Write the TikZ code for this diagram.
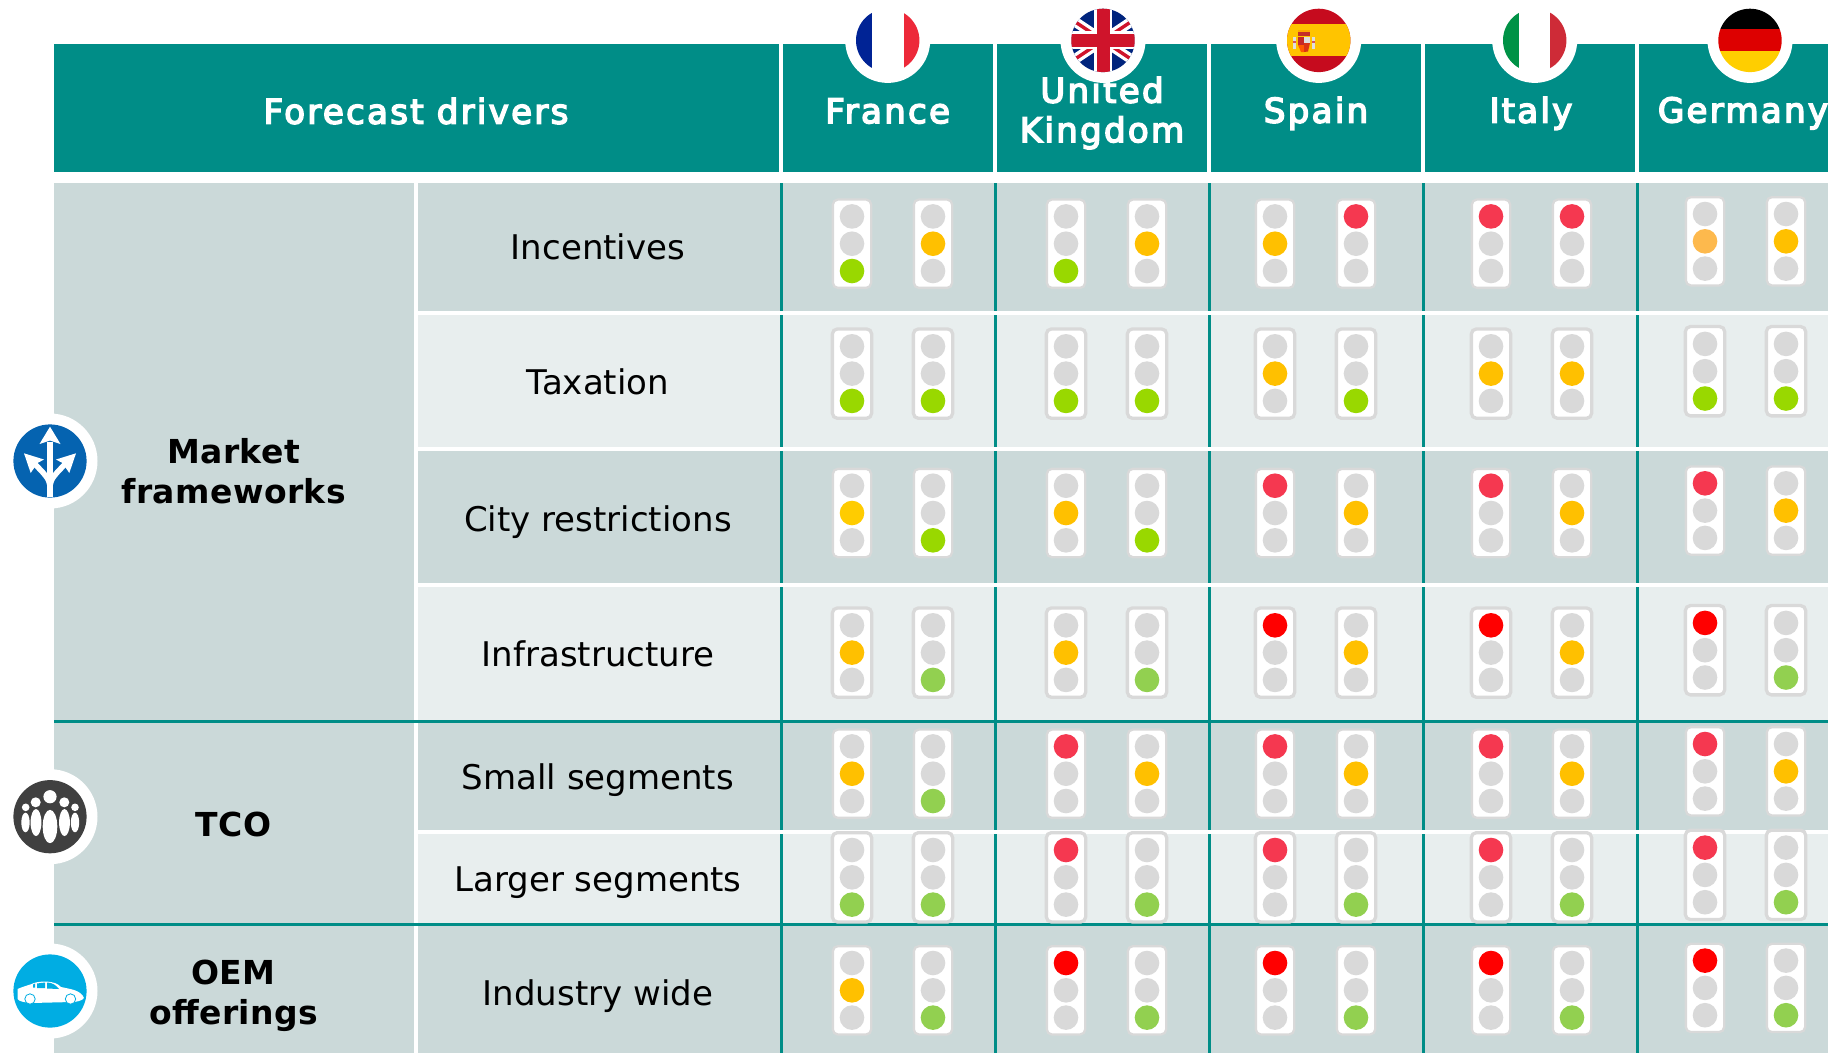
\documentclass[tikz,border=0pt]{standalone}
\usepackage{fontspec}
\setmainfont{DejaVu Sans}
\newfontfamily\hdrfont[FakeBold=4.5,LetterSpace=6.8]{DejaVu Sans}
\newfontfamily\grpfont[LetterSpace=1.2]{DejaVu Sans Bold}
\definecolor{Teal}{HTML}{008D87}
\definecolor{RowD}{HTML}{CBD9D9}
\definecolor{RowL}{HTML}{E8EEEE}
\definecolor{Off}{HTML}{D9D9D9}
\definecolor{Lime}{HTML}{99D800}
\definecolor{Grn}{HTML}{92D050}
\definecolor{Amb}{HTML}{FFC000}
\definecolor{Pale}{HTML}{FDB94D}
\definecolor{Yel}{HTML}{FFCC00}
\definecolor{Rd}{HTML}{F53850}
\definecolor{Pure}{HTML}{FF0000}
\definecolor{BlueI}{HTML}{0563B0}
\definecolor{DarkI}{HTML}{404040}
\definecolor{CyanI}{HTML}{00ADE3}
\definecolor{frblue}{HTML}{002395}
\definecolor{frred}{HTML}{ED2939}
\definecolor{ukblue}{HTML}{00247D}
\definecolor{ukred}{HTML}{CF142B}
\definecolor{esred}{HTML}{C60B1E}
\definecolor{esyel}{HTML}{FFC400}
\definecolor{itgreen}{HTML}{009246}
\definecolor{itred}{HTML}{CE2B37}
\definecolor{dered}{HTML}{DD0000}
\definecolor{degold}{HTML}{FFCE00}
\tikzset{
  hdrcell/.style={fill=Teal,draw=none},
  hdrtext/.style={text=white,font=\hdrfont\fontsize{34}{39.5}\selectfont,align=center,inner sep=0pt},
  rowtext/.style={text=black,font=\fontsize{34}{40}\selectfont,anchor=base,inner sep=0pt},
  grptext/.style={text=black,font=\grpfont\fontsize{33}{40}\selectfont,align=center,inner sep=0pt},
}
\newcommand{\colx}[1]{\ifcase#1\or852\or933\or1066\or1147\or1275\or1356\or1491\or1572\or1705\or1786\fi}
\newcommand{\coldy}[1]{\ifnum#1>8 -2.4\else 0\fi}
% \lightrow{y}{border}{list pos/colour}
\newcommand{\lightrow}[3]{%
  \foreach \p/\c [count=\i] in {#3} {
    \pgfmathsetmacro{\lx}{\colx{\i}}
    \pgfmathsetmacro{\ly}{#1+\coldy{\i}}
    \draw[draw=Off,fill=white,line width=#2pt,rounded corners=5pt]
      (\lx-18-#2/2,\ly-43-#2/2) rectangle (\lx+18+#2/2,\ly+43+#2/2);
    \foreach \k in {0,1,2} {
      \pgfmathsetmacro{\cy}{\ly+(\k-1)*27.3}
      \ifnum\k=\p\relax \fill[\c] (\lx,\cy) circle (12.3pt);
      \else \fill[Off] (\lx,\cy) circle (12.3pt); \fi
    }
  }
}
\begin{document}
\begin{tikzpicture}[x=1pt,y=-1pt]
\useasboundingbox (0,0) rectangle (1828,1053);
\fill[white] (0,0) rectangle (1828,1053);
% header cells
\fill[hdrcell] (54,44) rectangle (779,172);
\fill[hdrcell] (783,44) rectangle (993,172);
\fill[hdrcell] (997,44) rectangle (1207,172);
\fill[hdrcell] (1211,44) rectangle (1421,172);
\fill[hdrcell] (1425,44) rectangle (1635,172);
\fill[hdrcell] (1639,44) rectangle (1828,172);
% body backgrounds
\fill[RowD] (54,183) rectangle (1828,1053);
\fill[RowL] (417,314) rectangle (1828,449);
\fill[RowL] (417,585) rectangle (1828,721);
\fill[RowL] (417,832) rectangle (1828,924);
% teal verticals
\foreach \x in {781,995,1209,1423,1637} \draw[Teal,line width=3pt] (\x,183) -- (\x,1053);
% white rules
\foreach \y in {313,449,585,832} \draw[white,line width=3.4pt] (417,\y) -- (1828,\y);
\draw[white,line width=3.4pt] (416,183) -- (416,1053);
% teal horizontals
\foreach \y in {721,924} \draw[Teal,line width=3pt] (54,\y) -- (1828,\y);
% traffic lights
\lightrow{243.7}{2.3}{2/Lime,1/Amb,2/Lime,1/Amb,1/Amb,0/Rd,0/Rd,0/Rd,1/Pale,1/Amb}
\lightrow{373.6}{3.3}{2/Lime,2/Lime,2/Lime,2/Lime,1/Amb,2/Lime,1/Amb,1/Amb,2/Lime,2/Lime}
\lightrow{513}{2.3}{1/Yel,2/Lime,1/Amb,2/Lime,0/Rd,1/Amb,0/Rd,1/Amb,0/Rd,1/Amb}
\lightrow{652.6}{3.3}{1/Amb,2/Grn,1/Amb,2/Grn,0/Pure,1/Amb,0/Pure,1/Amb,0/Pure,2/Grn}
\lightrow{773.7}{2.3}{1/Amb,2/Grn,0/Rd,1/Amb,0/Rd,1/Amb,0/Rd,1/Amb,0/Rd,1/Amb}
\lightrow{877.3}{3.3}{2/Grn,2/Grn,0/Rd,2/Grn,0/Rd,2/Grn,0/Rd,2/Grn,0/Rd,2/Grn}
\lightrow{990.3}{2.3}{1/Amb,2/Grn,0/Pure,2/Grn,0/Pure,2/Grn,0/Pure,2/Grn,0/Pure,2/Grn}
% flags: halos
\foreach \x in {887.7,1103,1318.7,1534.7,1750} \fill[white] (\x,40.4) circle (42.5pt);
% France
\begin{scope}
\clip (887.7,40.4) circle (31.7pt);
\fill[white] (850,0) rectangle (930,80);
\fill[frblue] (850,0) rectangle (871.7,80);
\fill[frred] (903.7,0) rectangle (930,80);
\end{scope}
% United Kingdom
\begin{scope}
\clip (1103,40.4) circle (31.7pt);
\fill[ukblue] (1060,0) rectangle (1150,80);
\draw[white,line width=10pt] (1055,8.4) -- (1151,72.4) (1055,72.4) -- (1151,8.4);
\draw[ukred,line width=3.4pt] (1055,8.4) -- (1151,72.4) (1055,72.4) -- (1151,8.4);
\draw[white,line width=18pt] (1103,0) -- (1103,80) (1055,40.4) -- (1151,40.4);
\draw[ukred,line width=13pt] (1103,0) -- (1103,80) (1055,40.4) -- (1151,40.4);
\end{scope}
% Spain
\begin{scope}
\clip (1318.7,40.4) circle (31.7pt);
\fill[esred] (1280,0) rectangle (1360,80);
\fill[esyel] (1280,23.5) rectangle (1360,56);
\fill[esred!70!brown] (1298,32) rectangle (1310,36);
\fill[esyel!60!orange] (1298,29.5) rectangle (1310,32);
\fill[esred!75!brown] (1298,36.5) rectangle (1304,45);
\fill[white!75!gray] (1304,36.5) rectangle (1310,43);
\fill[orange!70!red] (1298,45) -- (1304,45) -- (1304,52) -- (1301,52) -- cycle;
\fill[esred!65!orange] (1304,43) -- (1310,43) -- (1308,51.5) -- (1304,52) -- cycle;
\fill[white!75!gray] (1293,37) rectangle (1295.5,49);
\fill[esred!70!white] (1292.5,41) rectangle (1296,43);
\fill[white!75!gray] (1312,37) rectangle (1314.5,49);
\fill[esred!70!white] (1311.5,41) rectangle (1315,43);
\end{scope}
% Italy
\begin{scope}
\clip (1534.7,40.4) circle (31.7pt);
\fill[white] (1500,0) rectangle (1570,80);
\fill[itgreen] (1500,0) rectangle (1518.5,80);
\fill[itred] (1549.8,0) rectangle (1570,80);
\end{scope}
% Germany
\begin{scope}
\clip (1750,40.4) circle (31.7pt);
\fill[black] (1715,0) rectangle (1785,29.3);
\fill[dered] (1715,29.3) rectangle (1785,51.2);
\fill[degold] (1715,51.2) rectangle (1785,80);
\end{scope}
% header labels
\node[hdrtext] (drivers) at (416,111) {Forecast drivers};
\node[hdrtext] (france) at (887.7,111) {France};
\node[hdrtext] (uk) at (1102,113) {United\\Kingdom};
\node[hdrtext] (spain) at (1316,113.3) {Spain};
\node[hdrtext] (italy) at (1531,113.3) {I\kern2pt taly};
\node[hdrtext] (germany) at (1743,113.3) {Germany};
% row labels
\node[rowtext] (r1) at (598,259.4) {Incentives};
\node[rowtext] (r2) at (598,394.4) {Taxation};
\node[rowtext] (r3) at (598,531) {City restrictions};
\node[rowtext] (r4) at (598,666.4) {Infrastructure};
\node[rowtext] (r5) at (598,789.4) {Small segments};
\node[rowtext] (r6) at (598,891.7) {Larger segments};
\node[rowtext] (r7) at (598,1005) {Industry wide};
% group labels
\node[grptext] (g1) at (233.6,471) {Market\\frameworks};
\node[grptext] (g2) at (233.6,824) {TCO};
\node[grptext] (g3) at (233.6,995.5) {OEM\\offerings};
% icons: halos
\foreach \y in {461,816.7,991} \fill[white] (50,\y) circle (47.5pt);
% arrows icon
\fill[BlueI] (50,461) circle (36.6pt);
\fill[white] (47,497.3) -- (53,497.3) -- (53,442) -- (47,442) -- cycle;
\draw[white,line width=5.5pt] (50,488) .. controls (50,478) and (44,474) .. (33,462);
\draw[white,line width=5.5pt] (50,488) .. controls (50,478) and (56,474) .. (67,462);
\fill[white] (50,426.7) -- (60.5,444) -- (50,440.5) -- (39.5,444) -- cycle;
\fill[white] (24,453.3) -- (44,459.5) -- (37.5,463) -- (30.7,473) -- cycle;
\fill[white] (76,453.3) -- (56,459.5) -- (62.5,463) -- (69.3,473) -- cycle;
% people icon
\fill[DarkI] (50,816.7) circle (36.6pt);
\fill[white] (50,796.7) circle (6.6pt);
\fill[white] (35.7,802.3) circle (5pt);
\fill[white] (64.3,802.3) circle (5pt);
\fill[white] (25.7,807.3) circle (3.8pt);
\fill[white] (75,807.3) circle (3.8pt);
\fill[white] (50,826.5) ellipse (7.3pt and 16.7pt);
\fill[white] (36,822.5) ellipse (5.4pt and 13.5pt);
\fill[white] (64.5,822.5) ellipse (5.4pt and 13.5pt);
\fill[white] (25.5,822.5) ellipse (4.2pt and 9.8pt);
\fill[white] (75,822.5) ellipse (4.2pt and 9.8pt);
% car icon
\fill[CyanI] (50,991) circle (36.6pt);
\fill[white] (17.5,989) .. controls (24,986) and (30,985) .. (34,983)
  .. controls (40,981) and (55,980) .. (61,987) .. controls (70,989) and (81,990) .. (84,998)
  .. controls (82,1001) and (76,1002) .. (72,1002) -- (31,1003) .. controls (24,1002) and (20,1002) .. (17.5,999) -- cycle;
\fill[CyanI] (33,984.5) -- (35,983.5) -- (35,987.5) -- (33,987.5) -- cycle;
\fill[CyanI] (37,983.5) -- (45,982.5) -- (45,988) -- (37,988) -- cycle;
\fill[CyanI] (47,982.5) .. controls (52,982.5) and (56,985) .. (59,989) -- (47,988.5) -- cycle;
\fill[white,draw=CyanI,line width=0.8pt] (30,999) circle (5.2pt);
\fill[white,draw=CyanI,line width=0.8pt] (70.5,999) circle (5.2pt);
\end{tikzpicture}
\end{document}
